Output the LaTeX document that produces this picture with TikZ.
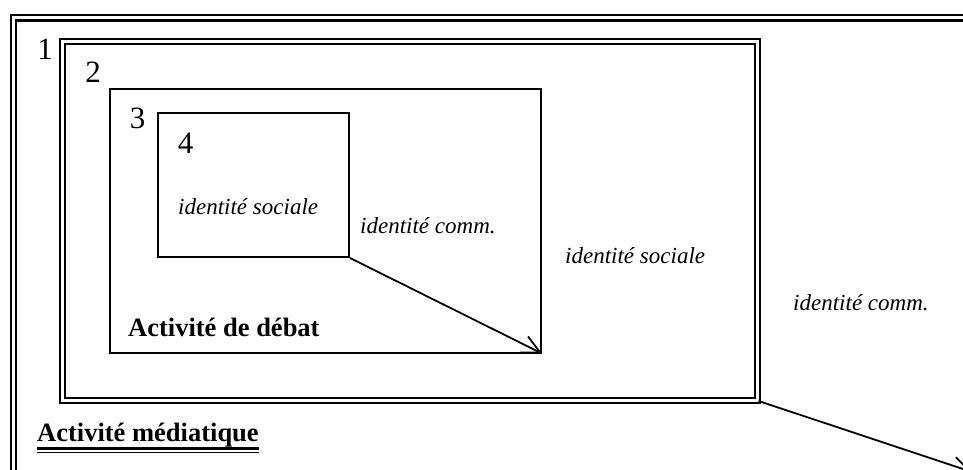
\documentclass[tikz,border=0pt]{standalone}
\usepackage{fontspec}
\setmainfont{Liberation Serif}
\usetikzlibrary{arrows.meta}

\begin{document}
\begin{tikzpicture}[x=1pt,y=-1pt]
            \tikzset{box/.style = {shape=rectangle,draw,line width=2pt,inner sep=0pt}}
            \tikzset{edge/.style = {-{Straight Barb[length=18pt,width=18pt]},line width=1.8pt}}
            \tikzset{level/.style = {inner sep=0pt,anchor=base,font=\fontsize{31}{36}\selectfont}}
            \tikzset{role/.style = {inner sep=0pt,anchor=base west,font=\fontsize{23}{27}\selectfont\itshape}}
            \tikzset{activity/.style = {inner sep=0pt,anchor=base west,font=\fontsize{26.5}{31}\selectfont\bfseries}}
            \useasboundingbox (0,0) rectangle (963,470);
            \clip (0,0) rectangle (963,470);
            % outer frame, cut by the page
            \draw[line width=1.5pt] (11,14.8) rectangle (1020,530);
            \draw[line width=2.5pt] (16,20.5) rectangle (1015,525);
            \node[box,double,double distance=3pt,minimum width=695.5pt,minimum height=358pt] (two) at (409.75,221) {};
            \node[box,minimum width=431.5pt,minimum height=263pt] (three) at (325.25,221) {};
            \node[box,minimum width=191pt,minimum height=144pt] (four) at (253.5,185) {};
            \coordinate (out) at (972,472);

            \node[level] (l1) at (45,60) {1};
            \node[level] (l2) at (93,83) {2};
            \node[level] (l3) at (137.5,129) {3};
            \node[level] (l4) at (185.5,154) {4};

            \node[role] (soc4) at (178,215) {identité sociale};
            \node[role] (comm3) at (360,234) {identité comm.};
            \node[role] (soc2) at (565,263) {identité sociale};
            \node[role] (comm1) at (793,310) {identité comm.};
            \node[activity] (debat) at (128,336) {Activité de débat};
            \node[activity] (media) at (37,441) {Activité médiatique};
            \draw[line width=3pt] ([yshift=-7.5pt]media.base west) -- ([yshift=-7.5pt]media.base east);
            \draw[line width=1pt] ([yshift=-11pt]media.base west) -- ([yshift=-11pt]media.base east);

            \draw[edge] (four.south east) to (three.south east);
            \draw[edge] (two.south east) to (out);
        \end{tikzpicture}
\end{document}
